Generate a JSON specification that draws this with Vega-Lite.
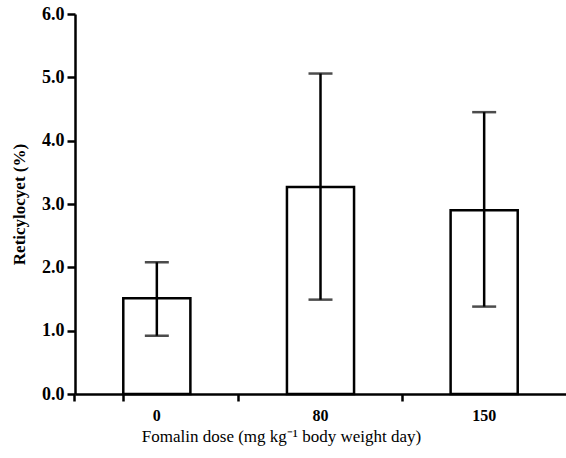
{
  "$schema": "https://vega.github.io/schema/vega-lite/v6.json",
  "autosize": "none",
  "width": 491,
  "height": 380,
  "padding": {"left": 75, "top": 14, "right": 0, "bottom": 64},
  "background": "white",
  "config": {
    "view": {"stroke": null},
    "font": "Times New Roman, Liberation Serif, serif"
  },
  "data": {
    "values": [
      {"dose": "0", "mean": 1.51, "low": 0.92, "high": 2.08},
      {"dose": "80", "mean": 3.27, "low": 1.49, "high": 5.06},
      {"dose": "150", "mean": 2.90, "low": 1.38, "high": 4.45}
    ]
  },
  "encoding": {
    "x": {
      "field": "dose",
      "type": "nominal",
      "sort": ["0", "80", "150"],
      "scale": {"paddingInner": 0.59, "paddingOuter": 0.295},
      "axis": {
        "title": "Fomalin dose (mg kg⁻¹ body weight day)",
        "labelAngle": 0,
        "labelFont": "Times New Roman, Liberation Serif, serif",
        "labelFontSize": 16,
        "labelFontWeight": "bold",
        "labelColor": "black",
        "labelPadding": 6,
        "titleFont": "Times New Roman, Liberation Serif, serif",
        "titleFontSize": 17,
        "titleFontWeight": "normal",
        "titleColor": "black",
        "titlePadding": 5,
        "titleX": 206,
        "titleAlign": "center",
        "domainColor": "black",
        "domainWidth": 2.5,
        "tickColor": "black",
        "tickWidth": 2.5,
        "tickSize": 7,
        "bandPosition": -0.72,
        "tickExtra": true
      }
    }
  },
  "layer": [
    {
      "mark": {"type": "bar", "fill": "white", "stroke": "black", "strokeWidth": 2.5},
      "encoding": {
        "y": {
          "field": "mean",
          "type": "quantitative",
          "scale": {"domain": [0, 6], "nice": false},
          "axis": {
            "title": "Reticylocyet (%)",
            "values": [0, 1, 2, 3, 4, 5, 6],
            "format": ".1f",
            "grid": false,
            "labelFont": "Times New Roman, Liberation Serif, serif",
            "labelFontSize": 18,
            "labelFontWeight": "bold",
            "labelColor": "black",
            "labelPadding": 3,
            "titleFont": "Times New Roman, Liberation Serif, serif",
            "titleFontSize": 17,
            "titleFontWeight": "bold",
            "titleColor": "black",
            "titlePadding": 13,
            "domainColor": "black",
            "domainWidth": 2.5,
            "tickColor": "black",
            "tickWidth": 2.5,
            "tickSize": 8
          }
        }
      }
    },
    {
      "mark": {"type": "rule", "color": "black", "strokeWidth": 2.5},
      "encoding": {
        "y": {"field": "low", "type": "quantitative"},
        "y2": {"field": "high"}
      }
    },
    {
      "mark": {"type": "tick", "color": "black", "thickness": 2.5, "size": 24, "orient": "horizontal"},
      "encoding": {"y": {"field": "high", "type": "quantitative"}}
    },
    {
      "mark": {"type": "tick", "color": "black", "thickness": 2.5, "size": 24, "orient": "horizontal"},
      "encoding": {"y": {"field": "low", "type": "quantitative"}}
    }
  ]
}
